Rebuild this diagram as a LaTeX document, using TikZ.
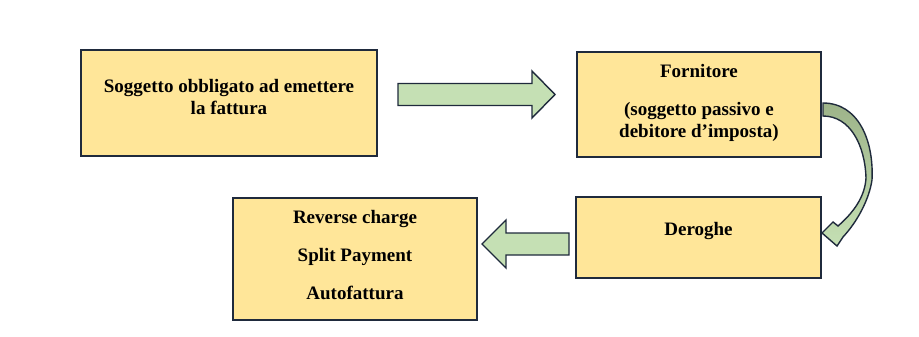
\documentclass[tikz,border=0pt]{standalone}
\usepackage{fontspec}
\setmainfont{Liberation Serif}
\usetikzlibrary{calc}

\definecolor{boxfill}{HTML}{FFE699}
\definecolor{navy}{HTML}{1F2A3C}
\definecolor{arrowfill}{HTML}{C5E0B4}
\definecolor{arrowdark}{HTML}{9DB389}

\begin{document}
\begin{tikzpicture}[x=1pt, y=-1pt,
box/.style={rectangle, draw=navy, fill=boxfill, line width=1.6pt, inner sep=0pt},
lbl/.style={align=center, inner sep=0pt, font=\fontsize{19}{22.5}\selectfont\bfseries},
blockarrow/.style={draw=navy, fill=arrowfill, line width=1.4pt, line join=miter}
]
\useasboundingbox (0,0) rectangle (919,337);

\node[box, minimum width=296pt, minimum height=106pt] (soggetto) at (229,103) {};
\node[box, minimum width=244pt, minimum height=105pt] (fornitore) at (699,104.5) {};
\node[box, minimum width=245pt, minimum height=81pt] (deroghe) at (698.5,237.5) {};
\node[box, minimum width=244pt, minimum height=122pt] (regimi) at (355,259) {};

\node[lbl] (soggettotxt) at ([yshift=6pt]soggetto.center) {Soggetto obbligato ad emettere\\la fattura};
\node[lbl] (fornitoretxt) at ([yshift=1.5pt]fornitore.center) {Fornitore\\[15pt](soggetto passivo e\\debitore d’imposta)};
\node[lbl] (derogheetxt) at ([yshift=6pt]deroghe.center) {Deroghe};
\node[lbl] (regimitxt) at ([yshift=4pt]regimi.center) {Reverse charge\\[15.5pt]Split Payment\\[15.5pt]Autofattura};

% block arrows
\draw[blockarrow] (398,83.5) -- (532,83.5) -- (532,71) -- (555,94.5) -- (532,118)
  -- (532,105.5) -- (398,105.5) -- cycle;
\draw[blockarrow] (569,233) -- (506,233) -- (506,220) -- (482,244) -- (506,268)
  -- (506,255) -- (569,255) -- cycle;

% curved arrow
\draw[blockarrow, top color=arrowdark, bottom color=arrowfill]
  (823,103) .. controls (858,103) and (874,140) .. (872,180)
  .. controls (869,200) and (857,222) .. (843,237)
  -- (837,246) -- (822,233) -- (833,222) -- (838,226)
  .. controls (853,213) and (865,197) .. (866,178)
  .. controls (865,145) and (850,116) .. (823,116) -- cycle;
\end{tikzpicture}
\end{document}
